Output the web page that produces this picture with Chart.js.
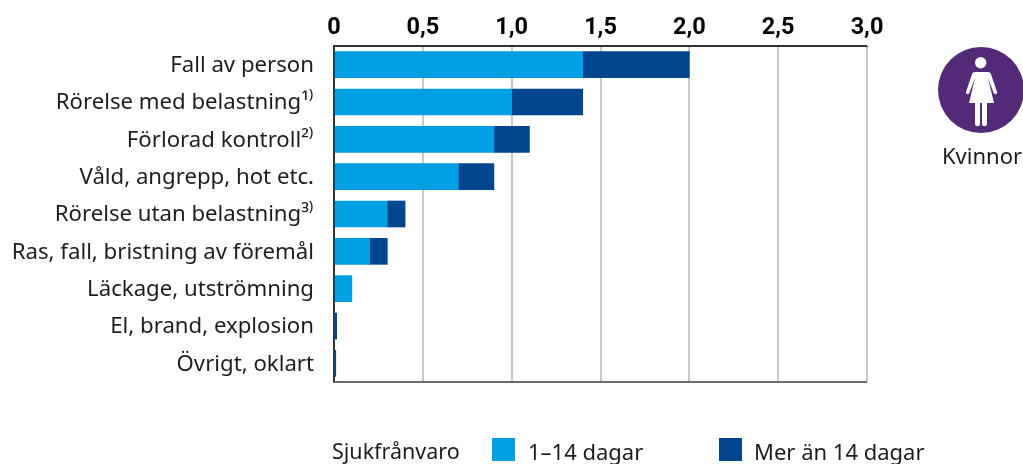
<!DOCTYPE html>
<html><head><meta charset="utf-8">
<script src="https://cdn.jsdelivr.net/npm/chart.js@4"></script>
<style>
html,body{margin:0;padding:0;background:#fff;overflow:hidden}
#w{position:relative;width:1023px;height:464px;font-family:"Noto Sans",sans-serif;color:#1d1d1b}
canvas{position:absolute;left:0;top:0}
.t{position:absolute;font-size:22px;line-height:24px;white-space:nowrap}
.s{position:absolute;width:23px;height:23px}
</style></head><body>
<div id="w">
<canvas id="c" width="1023" height="464"></canvas>
<div class="t" style="left:332px;top:439px;font-size:21.5px">Sjukfrånvaro</div>
<div class="s" style="left:492px;top:438px;background:#009fe3"></div>
<div class="t" style="left:528px;top:439px">1–14 dagar</div>
<div class="s" style="left:719px;top:438px;background:#00468e"></div>
<div class="t" style="left:754px;top:439px">Mer än 14 dagar</div>
<svg style="position:absolute;left:938px;top:47px" width="85" height="86" viewBox="0 0 85 86">
<circle cx="43" cy="43" r="43" fill="#522a78"/>
<circle cx="42.700" cy="15.700" r="5.700" fill="#fff"/>
<path fill="#fff" d="M36 25h14c1.500 0 2.500 .8 3 2l6 18c.6 2-2.300 3-3.200 1.200L50 31l6 25H49v21c0 3-5 3-5 0V56h-2v21c0 3-5 3-5 0V56h-6l6-25-5.800 15.200c-.9 1.800-3.800 .8-3.200-1.200l6-18c.5-1.200 1.500-2 3-2z"/>
</svg>
<div class="t" style="left:942px;top:143px">Kvinnor</div>
</div>
<script>
const categories=["Fall av person","Rörelse med belastning¹⁾","Förlorad kontroll²⁾","Våld, angrepp, hot etc.","Rörelse utan belastning³⁾","Ras, fall, bristning av föremål","Läckage, utströmning","El, brand, explosion","Övrigt, oklart"];
const shortAbsence=[1.4,1.0,0.9,0.7,0.3,0.2,0.1,0,0];
const longAbsence=[0.6,0.4,0.2,0.2,0.1,0.1,0,0.015,0.01];
const tickLabels=["0","0,5","1,0","1,5","2,0","2,5","3,0"];
const ink="#1d1d1b";
new Chart(document.getElementById("c"),{
 type:"bar",
 data:{labels:categories,datasets:[
  {label:"1–14 dagar",data:shortAbsence,backgroundColor:"#009fe3",barThickness:26,borderWidth:0},
  {label:"Mer än 14 dagar",data:longAbsence,backgroundColor:"#00468e",barThickness:26,borderWidth:0}]},
 options:{
  indexAxis:"y",responsive:false,animation:false,
  layout:{padding:{left:0,top:0,right:156,bottom:82}},
  plugins:{legend:{display:false},tooltip:{enabled:false}},
  scales:{
   x:{position:"top",stacked:true,min:0,max:3,
    afterFit:s=>{s.height=46},
    afterBuildTicks:s=>{s.ticks=tickLabels.map((_,i)=>({value:i*0.5}))},
    ticks:{callback:(v,i)=>tickLabels[i],color:"#000",padding:4,maxRotation:0,autoSkip:false,font:{family:"Roboto",size:23.5,weight:"bold"}},
    grid:{color:c=>c.index===0?"#333":"#c8c8c8",lineWidth:2,drawTicks:false},
    border:{display:true,color:"#333",width:1}},
   y:{stacked:true,
    afterFit:s=>{s.width=334},
    ticks:{color:ink,padding:20,labelOffset:1,autoSkip:false,font:{family:"Noto Sans",size:22.2}},
    grid:{display:false,drawTicks:false},
    border:{display:true,color:"#333",width:2}}
  }
 },
 plugins:[{id:"frame",afterDatasetsDraw(ch){const a=ch.chartArea,g=ch.ctx;g.save();g.fillStyle="#6b6b6b";g.fillRect(a.left-1,a.bottom-1,a.right-a.left+1,2);g.fillStyle="#333";g.fillRect(a.left-1,a.top-1,a.right-a.left+1,1);g.fillRect(a.left-1,a.top,1.5,a.bottom-a.top);g.restore();}}]
});
</script>
</body></html>
